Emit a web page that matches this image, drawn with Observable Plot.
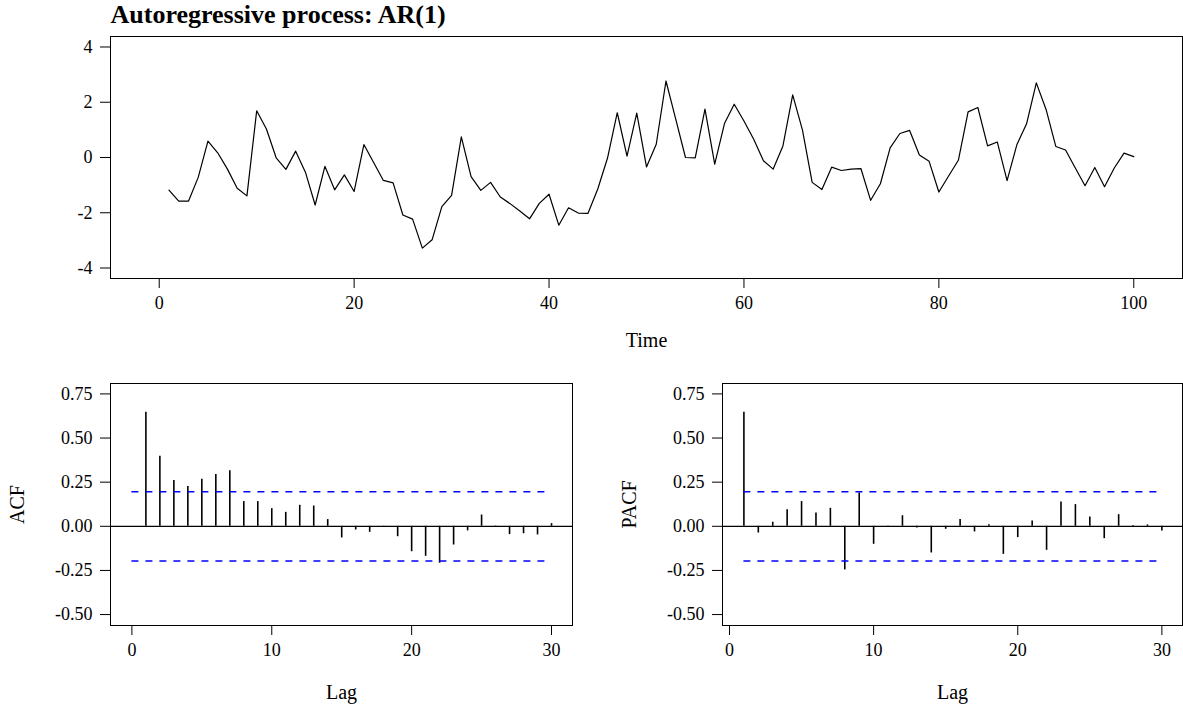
<!DOCTYPE html>
<html><head><meta charset="utf-8">
<script src="https://cdn.jsdelivr.net/npm/d3@7"></script>
<script src="https://cdn.jsdelivr.net/npm/@observablehq/plot@0.6"></script>
<style>
body{margin:0;background:#fff;}
#wrap{position:relative;width:1183px;height:710px;overflow:hidden;}
#wrap svg{position:absolute;overflow:visible;}
</style></head><body><div id="wrap"></div>
<script>
const title = "Autoregressive process: AR(1)";
const xLabelTop = "Time";
const xLabelLag = "Lag";
const seriesValues = [
  -1.18,-1.58,-1.58,-0.72,0.59,0.17,-0.42,-1.11,-1.39,1.69,
  1.03,-0.01,-0.43,0.23,-0.53,-1.72,-0.32,-1.17,-0.63,-1.23,
  0.47,-0.18,-0.83,-0.92,-2.08,-2.23,-3.28,-2.98,-1.78,-1.37,
  0.75,-0.69,-1.19,-0.90,-1.43,-1.67,-1.94,-2.22,-1.66,-1.33,
  -2.45,-1.82,-2.01,-2.02,-1.14,-0.02,1.62,0.05,1.61,-0.34,
  0.48,2.77,1.39,0.00,-0.01,1.75,-0.24,1.23,1.93,1.32,
  0.66,-0.12,-0.42,0.42,2.27,1.00,-0.90,-1.16,-0.35,-0.47,
  -0.42,-0.40,-1.55,-0.95,0.35,0.87,0.98,0.09,-0.14,-1.25,
  -0.67,-0.10,1.65,1.81,0.42,0.56,-0.84,0.46,1.22,2.70,
  1.74,0.40,0.27,-0.38,-1.02,-0.36,-1.06,-0.38,0.16,0.03
];
const timeTicks = [0,20,40,60,80,100];
const seriesTicks = [-4,-2,0,2,4];
const acfValues = [0.646,0.397,0.259,0.225,0.266,0.293,0.315,0.140,0.140,0.100,
  0.079,0.119,0.115,0.038,-0.066,-0.021,-0.034,-0.004,-0.059,-0.144,
  -0.170,-0.209,-0.106,-0.026,0.064,0.002,-0.047,-0.042,-0.049,0.015];
const pacfValues = [0.646,-0.038,0.023,0.094,0.140,0.076,0.102,-0.247,0.189,-0.102,
  -0.004,0.060,-0.009,-0.151,-0.017,0.038,-0.032,0.009,-0.159,-0.064,
  0.030,-0.136,0.138,0.123,0.053,-0.070,0.066,0.004,0.008,-0.026];
const lagTicks = [0,10,20,30];
const corrTicks = [-0.5,-0.25,0,0.25,0.5,0.75];
const ciBounds = [0.196,-0.196];

const FONT = '"Liberation Serif","Times New Roman",Times,serif';
const TICK_FS = 18;
const wrap = document.getElementById("wrap");
function place(svg, left, top){ svg.style.left = left+"px"; svg.style.top = top+"px"; wrap.appendChild(svg); }

const series = seriesValues.map((v,i)=>({t:i+1, v}));
const topPlot = Plot.plot({
  width:1183, height:370, marginLeft:110, marginRight:1, marginTop:36, marginBottom:92,
  x:{domain:[-5,105]}, y:{domain:[-4.38,4.38]},
  style:{fontFamily:FONT, fontSize:TICK_FS+"px", background:"transparent", color:"black", overflow:"visible"},
  marks:[
    Plot.line(series,{x:"t", y:"v", stroke:"black", strokeWidth:1.2}),
    Plot.axisX({ticks:timeTicks, tickSize:10, tickPadding:8, label:null, fontSize:TICK_FS, tickFormat:d=>String(d)}),
    Plot.axisY({ticks:seriesTicks, tickSize:10, tickPadding:8, label:null, fontSize:TICK_FS, tickFormat:d=>String(d)}),
    Plot.frame({stroke:"black", strokeWidth:1}),
    Plot.text([title],{frameAnchor:"top-left", dy:-14, textAnchor:"start", lineAnchor:"bottom", fontWeight:"bold", fontSize:26, text:d=>d}),
    Plot.text([xLabelTop],{frameAnchor:"bottom", dy:62, lineAnchor:"middle", fontSize:20, text:d=>d})
  ]
});
place(topPlot, 0, 0);

function corrPanel(values, yLabel, ciStart, ml, mr, xDomain){
  const data = values.map((v,i)=>({lag:i+1, v}));
  const ciLast = data[data.length-1].lag;
  return Plot.plot({
    width:583, height:340, marginLeft:ml, marginRight:mr, marginTop:13, marginBottom:85,
    x:{domain:xDomain}, y:{domain:[-0.562,0.809]},
    style:{fontFamily:FONT, fontSize:TICK_FS+"px", background:"transparent", color:"black", overflow:"visible"},
    marks:[
      Plot.ruleY([0],{stroke:"black", strokeWidth:1.3}),
      Plot.ruleX(data,{x:"lag", y1:0, y2:"v", stroke:"black", strokeWidth:1.6}),
      Plot.ruleY(ciBounds,{x1:ciStart, x2:ciLast, stroke:"#0000ff", strokeWidth:1.5, strokeDasharray:"7,7"}),
      Plot.axisX({ticks:lagTicks, tickSize:10, tickPadding:8, label:null, fontSize:TICK_FS, tickFormat:d=>String(d)}),
      Plot.axisY({ticks:corrTicks, tickSize:10, tickPadding:8, label:null, fontSize:TICK_FS, tickFormat:d=>d.toFixed(2)}),
      Plot.frame({stroke:"black", strokeWidth:1}),
      Plot.text([xLabelLag],{frameAnchor:"bottom", dy:67, lineAnchor:"middle", fontSize:20, text:d=>d}),
      Plot.text([yLabel],{frameAnchor:"left", dx:-93, rotate:-90, lineAnchor:"middle", textAnchor:"middle", fontSize:20, text:d=>d})
    ]
  });
}
place(corrPanel(acfValues, "ACF", 0, 110, 11, [-1.53,31.5]), 0, 370);
place(corrPanel(pacfValues, "PACF", 1, 122, 1, [-0.485,31.43]), 600, 370);
</script></body></html>
